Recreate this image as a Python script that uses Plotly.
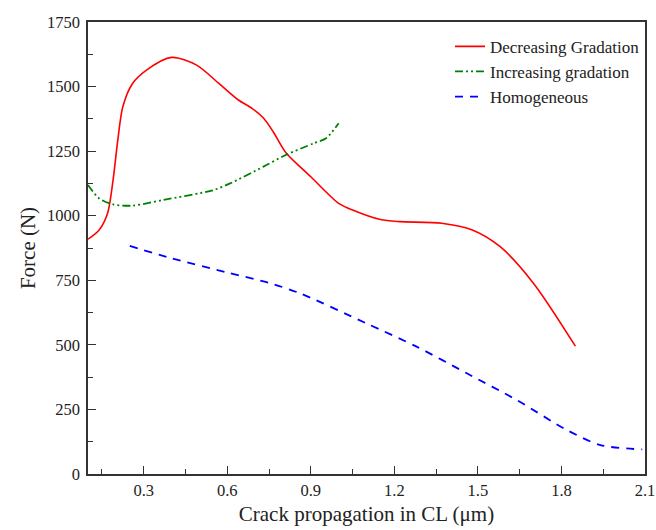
import plotly.graph_objects as go

# Decreasing Gradation
dec_x = [0.10, 0.14, 0.17, 0.19, 0.207, 0.225, 0.26, 0.31, 0.40, 0.49, 0.57, 0.64, 0.69, 0.73, 0.765, 0.81, 0.90, 1.00, 1.05, 1.15, 1.22, 1.37, 1.48, 1.58, 1.70, 1.85]
dec_y = [909, 945, 1009, 1138, 1293, 1422, 1512, 1564, 1613, 1583, 1512, 1448, 1415, 1378, 1325, 1245, 1151, 1048, 1022, 985, 977, 971, 945, 880, 738, 495]

# Increasing gradation
inc_x = [0.10, 0.14, 0.19, 0.26, 0.37, 0.55, 0.61, 0.73, 0.81, 0.91, 0.955, 1.00]
inc_y = [1119, 1067, 1044, 1039, 1061, 1099, 1125, 1190, 1235, 1280, 1300, 1358]

# Homogeneous
hom_x = [0.25, 0.40, 0.60, 0.75, 0.86, 1.10, 1.28, 1.46, 1.64, 1.82, 1.94, 2.09]
hom_y = [883, 835, 780, 740, 700, 583, 493, 390, 286, 170, 112, 95]

x_ticks = [0.3, 0.6, 0.9, 1.2, 1.5, 1.8, 2.1]
y_ticks = [0, 250, 500, 750, 1000, 1250, 1500, 1750]

fig = go.Figure()
fig.add_trace(go.Scatter(x=dec_x, y=dec_y, mode="lines", name="Decreasing Gradation",
                         line=dict(color="#ff0000", width=1.6, shape="spline", smoothing=0.8)))
fig.add_trace(go.Scatter(x=inc_x, y=inc_y, mode="lines", name="Increasing gradation",
                         line=dict(color="#008000", width=1.8, shape="spline", smoothing=0.8,
                                   dash="8px,3px,2px,3px,2px,3px")))
fig.add_trace(go.Scatter(x=hom_x, y=hom_y, mode="lines", name="Homogeneous",
                         line=dict(color="#0000ff", width=1.8, shape="spline", smoothing=0.8,
                                   dash="8px,7px")))

axis_common = dict(showline=True, linecolor="#333", linewidth=1.5, mirror=True,
                   ticks="inside", ticklen=8, tickwidth=1.3, tickcolor="#333",
                   showgrid=False, zeroline=False, automargin=False,
                   tickfont=dict(family="Liberation Serif", size=16.5, color="#222"))

fig.update_xaxes(range=[0.1, 2.1], tickvals=x_ticks, ticktext=[f"{v:.1f}" for v in x_ticks],
                 minor=dict(ticks="inside", ticklen=5, tickwidth=1.1, tickcolor="#333", dtick=0.15, tick0=0.15),
                 title=dict(text="Crack propagation in CL (μm)", font=dict(family="Liberation Serif", size=21, color="#222"), standoff=8),
                 **axis_common)
fig.update_yaxes(range=[0, 1750], tickvals=y_ticks, ticklabelstandoff=3,
                 minor=dict(ticks="inside", ticklen=5, tickwidth=1.1, tickcolor="#333", dtick=125, tick0=0),
                 title=dict(text="Force (N)", font=dict(family="Liberation Serif", size=21, color="#222"), standoff=6),
                 **axis_common)

fig.update_layout(width=656, height=530, margin=dict(l=88, r=11, t=22, b=56),
                  paper_bgcolor="white", plot_bgcolor="white",
                  font=dict(family="Liberation Serif", size=16, color="#222"),
                  legend=dict(x=1.0, y=0.985, xanchor="right", yanchor="top",
                              bgcolor="rgba(0,0,0,0)", font=dict(family="Liberation Serif", size=17),
                              tracegroupgap=0, itemwidth=30))

fig.write_html("out.html", config={"displayModeBar": False},
               post_script="document.body.style.margin='0';document.body.style.padding='0';")
